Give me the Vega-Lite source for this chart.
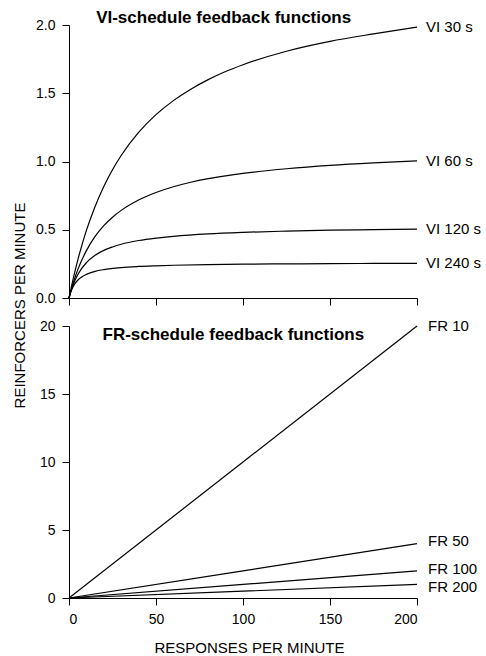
{
  "$schema": "https://vega.github.io/schema/vega-lite/v6.json",
  "background": "white",
  "padding": {"left": 12, "top": 9, "right": 2, "bottom": 2},
  "spacing": 28,
  "bounds": "flush",
  "config": {
    "view": {"stroke": null},
    "font": "Liberation Sans",
    "axis": {
      "domainColor": "black", "tickColor": "black", "labelColor": "black", "titleColor": "black",
      "grid": false, "tickSize": 7, "labelFontSize": 14, "titleFontSize": 15, "titleFontWeight": "normal",
      "labelFont": "Liberation Sans", "titleFont": "Liberation Sans", "domainWidth": 1, "tickWidth": 1, "labelPadding": 7
    }
  },
  "datasets": {
    "vi": [
      {"schedule": "VI 30 s", "responses": 0, "reinforcers": 0},
      {"schedule": "VI 30 s", "responses": 2, "reinforcers": 0.119},
      {"schedule": "VI 30 s", "responses": 5, "reinforcers": 0.276},
      {"schedule": "VI 30 s", "responses": 10, "reinforcers": 0.495},
      {"schedule": "VI 30 s", "responses": 15, "reinforcers": 0.671},
      {"schedule": "VI 30 s", "responses": 20, "reinforcers": 0.817},
      {"schedule": "VI 30 s", "responses": 25, "reinforcers": 0.940},
      {"schedule": "VI 30 s", "responses": 30, "reinforcers": 1.044},
      {"schedule": "VI 30 s", "responses": 40, "reinforcers": 1.213},
      {"schedule": "VI 30 s", "responses": 50, "reinforcers": 1.343},
      {"schedule": "VI 30 s", "responses": 60, "reinforcers": 1.446},
      {"schedule": "VI 30 s", "responses": 70, "reinforcers": 1.530},
      {"schedule": "VI 30 s", "responses": 80, "reinforcers": 1.600},
      {"schedule": "VI 30 s", "responses": 90, "reinforcers": 1.659},
      {"schedule": "VI 30 s", "responses": 100, "reinforcers": 1.709},
      {"schedule": "VI 30 s", "responses": 125, "reinforcers": 1.808},
      {"schedule": "VI 30 s", "responses": 150, "reinforcers": 1.880},
      {"schedule": "VI 30 s", "responses": 175, "reinforcers": 1.935},
      {"schedule": "VI 30 s", "responses": 200, "reinforcers": 1.985},
      {"schedule": "VI 60 s", "responses": 0, "reinforcers": 0},
      {"schedule": "VI 60 s", "responses": 2, "reinforcers": 0.093},
      {"schedule": "VI 60 s", "responses": 5, "reinforcers": 0.206},
      {"schedule": "VI 60 s", "responses": 10, "reinforcers": 0.347},
      {"schedule": "VI 60 s", "responses": 15, "reinforcers": 0.451},
      {"schedule": "VI 60 s", "responses": 20, "reinforcers": 0.530},
      {"schedule": "VI 60 s", "responses": 25, "reinforcers": 0.592},
      {"schedule": "VI 60 s", "responses": 30, "reinforcers": 0.642},
      {"schedule": "VI 60 s", "responses": 40, "reinforcers": 0.718},
      {"schedule": "VI 60 s", "responses": 50, "reinforcers": 0.773},
      {"schedule": "VI 60 s", "responses": 60, "reinforcers": 0.815},
      {"schedule": "VI 60 s", "responses": 70, "reinforcers": 0.848},
      {"schedule": "VI 60 s", "responses": 80, "reinforcers": 0.874},
      {"schedule": "VI 60 s", "responses": 90, "reinforcers": 0.895},
      {"schedule": "VI 60 s", "responses": 100, "reinforcers": 0.913},
      {"schedule": "VI 60 s", "responses": 125, "reinforcers": 0.947},
      {"schedule": "VI 60 s", "responses": 150, "reinforcers": 0.972},
      {"schedule": "VI 60 s", "responses": 175, "reinforcers": 0.990},
      {"schedule": "VI 60 s", "responses": 200, "reinforcers": 1.004},
      {"schedule": "VI 120 s", "responses": 0, "reinforcers": 0},
      {"schedule": "VI 120 s", "responses": 2, "reinforcers": 0.085},
      {"schedule": "VI 120 s", "responses": 5, "reinforcers": 0.171},
      {"schedule": "VI 120 s", "responses": 10, "reinforcers": 0.259},
      {"schedule": "VI 120 s", "responses": 15, "reinforcers": 0.313},
      {"schedule": "VI 120 s", "responses": 20, "reinforcers": 0.349},
      {"schedule": "VI 120 s", "responses": 25, "reinforcers": 0.374},
      {"schedule": "VI 120 s", "responses": 30, "reinforcers": 0.394},
      {"schedule": "VI 120 s", "responses": 40, "reinforcers": 0.421},
      {"schedule": "VI 120 s", "responses": 50, "reinforcers": 0.439},
      {"schedule": "VI 120 s", "responses": 60, "reinforcers": 0.452},
      {"schedule": "VI 120 s", "responses": 80, "reinforcers": 0.470},
      {"schedule": "VI 120 s", "responses": 100, "reinforcers": 0.481},
      {"schedule": "VI 120 s", "responses": 125, "reinforcers": 0.490},
      {"schedule": "VI 120 s", "responses": 150, "reinforcers": 0.497},
      {"schedule": "VI 120 s", "responses": 175, "reinforcers": 0.501},
      {"schedule": "VI 120 s", "responses": 200, "reinforcers": 0.505},
      {"schedule": "VI 240 s", "responses": 0, "reinforcers": 0},
      {"schedule": "VI 240 s", "responses": 1, "reinforcers": 0.043},
      {"schedule": "VI 240 s", "responses": 2, "reinforcers": 0.074},
      {"schedule": "VI 240 s", "responses": 3.5, "reinforcers": 0.107},
      {"schedule": "VI 240 s", "responses": 5, "reinforcers": 0.130},
      {"schedule": "VI 240 s", "responses": 7.5, "reinforcers": 0.156},
      {"schedule": "VI 240 s", "responses": 10, "reinforcers": 0.173},
      {"schedule": "VI 240 s", "responses": 15, "reinforcers": 0.195},
      {"schedule": "VI 240 s", "responses": 20, "reinforcers": 0.208},
      {"schedule": "VI 240 s", "responses": 30, "reinforcers": 0.223},
      {"schedule": "VI 240 s", "responses": 40, "reinforcers": 0.231},
      {"schedule": "VI 240 s", "responses": 50, "reinforcers": 0.236},
      {"schedule": "VI 240 s", "responses": 60, "reinforcers": 0.240},
      {"schedule": "VI 240 s", "responses": 80, "reinforcers": 0.245},
      {"schedule": "VI 240 s", "responses": 100, "reinforcers": 0.248},
      {"schedule": "VI 240 s", "responses": 125, "reinforcers": 0.250},
      {"schedule": "VI 240 s", "responses": 150, "reinforcers": 0.252},
      {"schedule": "VI 240 s", "responses": 175, "reinforcers": 0.253},
      {"schedule": "VI 240 s", "responses": 200, "reinforcers": 0.254}
    ],
    "fr": [
      {"schedule": "FR 10", "responses": 0, "reinforcers": 0},
      {"schedule": "FR 10", "responses": 100, "reinforcers": 10},
      {"schedule": "FR 10", "responses": 200, "reinforcers": 20},
      {"schedule": "FR 50", "responses": 0, "reinforcers": 0},
      {"schedule": "FR 50", "responses": 100, "reinforcers": 2},
      {"schedule": "FR 50", "responses": 200, "reinforcers": 4},
      {"schedule": "FR 100", "responses": 0, "reinforcers": 0},
      {"schedule": "FR 100", "responses": 100, "reinforcers": 1},
      {"schedule": "FR 100", "responses": 200, "reinforcers": 2},
      {"schedule": "FR 200", "responses": 0, "reinforcers": 0},
      {"schedule": "FR 200", "responses": 100, "reinforcers": 0.5},
      {"schedule": "FR 200", "responses": 200, "reinforcers": 1}
    ]
  },
  "vconcat": [
    {
      "width": 348,
      "height": 273,
      "layer": [
        {
          "data": {"name": "vi"},
          "mark": {"type": "line", "color": "black", "strokeWidth": 1.2, "interpolate": "monotone"},
          "encoding": {
            "x": {"field": "responses", "type": "quantitative", "scale": {"domain": [0, 200], "nice": false},
                  "axis": {"values": [0, 50, 100, 150, 200], "labels": false, "title": null}},
            "y": {"field": "reinforcers", "type": "quantitative", "scale": {"domain": [0, 2], "nice": false},
                  "axis": {"values": [0, 0.5, 1, 1.5, 2], "format": ".1f", "title": "REINFORCERS PER MINUTE",
                           "titleX": -45, "titleY": 280, "titleBaseline": "alphabetic", "titleAlign": "center"}},
            "detail": {"field": "schedule"}
          }
        },
        {
          "data": {"name": "vi"},
          "transform": [{"filter": "datum.responses == 200"}],
          "mark": {"type": "text", "align": "left", "baseline": "middle", "dx": 9, "fontSize": 15, "color": "black"},
          "encoding": {
            "x": {"field": "responses", "type": "quantitative"},
            "y": {"field": "reinforcers", "type": "quantitative"},
            "text": {"field": "schedule"}
          }
        },
        {
          "data": {"values": [{"label": "VI-schedule feedback functions"}]},
          "mark": {"type": "text", "align": "left", "baseline": "middle", "fontSize": 17, "fontWeight": "bold", "color": "black"},
          "encoding": {
            "x": {"datum": 15.6, "type": "quantitative"},
            "y": {"datum": 2.051, "type": "quantitative"},
            "text": {"field": "label"}
          }
        }
      ]
    },
    {
      "width": 348,
      "height": 272,
      "layer": [
        {
          "data": {"name": "fr"},
          "mark": {"type": "line", "color": "black", "strokeWidth": 1.2},
          "encoding": {
            "x": {"field": "responses", "type": "quantitative", "scale": {"domain": [0, 200], "nice": false},
                  "axis": {"values": [0, 50, 100, 150, 200], "title": "RESPONSES PER MINUTE", "titleX": 180, "titlePadding": 14}},
            "y": {"field": "reinforcers", "type": "quantitative", "scale": {"domain": [0, 20], "nice": false},
                  "axis": {"values": [0, 5, 10, 15, 20], "format": "d", "title": null}},
            "detail": {"field": "schedule"}
          }
        },
        {
          "data": {"name": "fr"},
          "transform": [{"filter": "datum.responses == 200 && datum.schedule == 'FR 10'"}],
          "mark": {"type": "text", "align": "left", "baseline": "middle", "dx": 11, "fontSize": 15, "color": "black"},
          "encoding": {
            "x": {"field": "responses", "type": "quantitative"},
            "y": {"field": "reinforcers", "type": "quantitative"},
            "text": {"field": "schedule"}
          }
        },
        {
          "data": {"name": "fr"},
          "transform": [{"filter": "datum.responses == 200 && datum.schedule == 'FR 50'"}],
          "mark": {"type": "text", "align": "left", "baseline": "middle", "dx": 11, "dy": -3, "fontSize": 15, "color": "black"},
          "encoding": {
            "x": {"field": "responses", "type": "quantitative"},
            "y": {"field": "reinforcers", "type": "quantitative"},
            "text": {"field": "schedule"}
          }
        },
        {
          "data": {"name": "fr"},
          "transform": [{"filter": "datum.responses == 200 && datum.schedule == 'FR 100'"}],
          "mark": {"type": "text", "align": "left", "baseline": "middle", "dx": 11, "dy": -2, "fontSize": 15, "color": "black"},
          "encoding": {
            "x": {"field": "responses", "type": "quantitative"},
            "y": {"field": "reinforcers", "type": "quantitative"},
            "text": {"field": "schedule"}
          }
        },
        {
          "data": {"name": "fr"},
          "transform": [{"filter": "datum.responses == 200 && datum.schedule == 'FR 200'"}],
          "mark": {"type": "text", "align": "left", "baseline": "middle", "dx": 11, "dy": 3, "fontSize": 15, "color": "black"},
          "encoding": {
            "x": {"field": "responses", "type": "quantitative"},
            "y": {"field": "reinforcers", "type": "quantitative"},
            "text": {"field": "schedule"}
          }
        },
        {
          "data": {"values": [{"label": "FR-schedule feedback functions"}]},
          "mark": {"type": "text", "align": "left", "baseline": "middle", "fontSize": 17, "fontWeight": "bold", "color": "black"},
          "encoding": {
            "x": {"datum": 19.25, "type": "quantitative"},
            "y": {"datum": 19.34, "type": "quantitative"},
            "text": {"field": "label"}
          }
        }
      ]
    }
  ]
}
